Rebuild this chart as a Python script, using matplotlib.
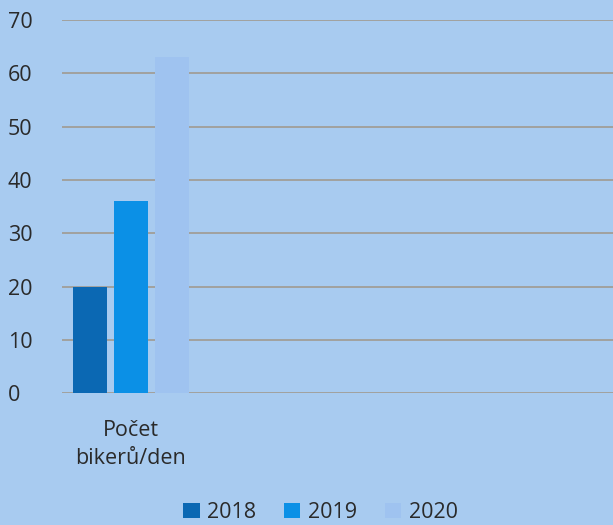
import matplotlib.pyplot as plt
import numpy as np

plt.rcParams['font.family'] = ['Open Sans', 'DejaVu Sans']

categories = ["Počet\nbikerů/den"]
years = ["2018", "2019", "2020"]
values = {
    "2018": [20],
    "2019": [36],
    "2020": [63],
}
colors = ["#0b68b3", "#0b90e6", "#9fc3f0"]
bg = "#a8cbf0"

fig = plt.figure(figsize=(6.13, 5.25), dpi=100, facecolor=bg)
ax = fig.add_axes([0.101, 0.251, 0.899, 0.711])
ax.set_facecolor(bg)

x = np.arange(len(categories))
step = 0.29
width = 0.24
for i, yr in enumerate(years):
    ax.bar(x + (i - 1) * step, values[yr], width, color=colors[i], label=yr, zorder=3)

ax.set_ylim(0, 70)
ax.set_xlim(-0.49, 3.42)
ax.set_yticks(range(0, 71, 10))
ax.yaxis.grid(True, color="#a09a90", linewidth=1.2, zorder=0)
ax.set_xticks(x)
ax.set_xticklabels(categories, fontsize=15.5, color="#2a2a2a", linespacing=1.45)
ax.tick_params(axis="y", length=0, labelsize=15.5, labelcolor="#2a2a2a", pad=39)
ax.tick_params(axis="x", length=0, pad=19)
for lbl in ax.get_yticklabels():
    lbl.set_horizontalalignment("left")
for s in ax.spines.values():
    s.set_visible(False)

fig.legend(loc="center", bbox_to_anchor=(0.523, 0.024), ncol=3, frameon=False,
           fontsize=15.5, handlelength=0.75, handleheight=0.75, handletextpad=0.35,
           columnspacing=1.3, labelcolor="#2a2a2a")

fig.savefig("out.png", dpi=100, facecolor=bg)
